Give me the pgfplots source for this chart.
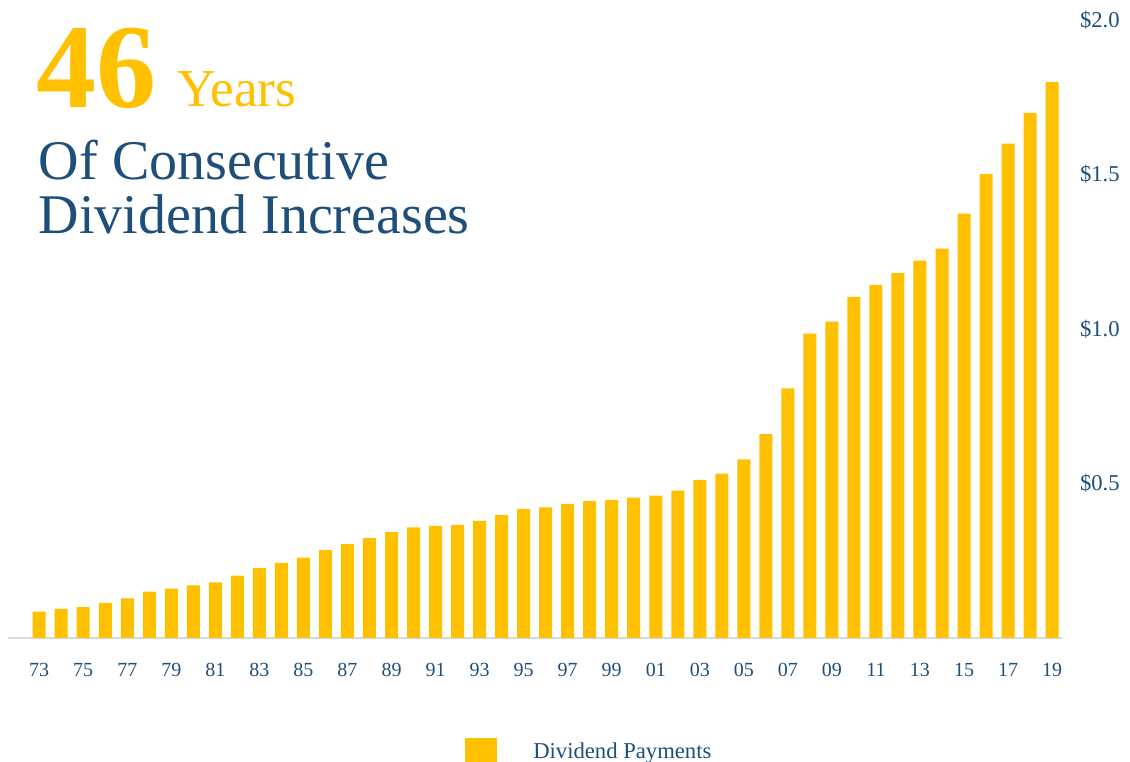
\documentclass[border=0pt]{standalone}
\usepackage{fontspec}
\setmainfont{Liberation Serif}
\usepackage{pgfplots}
\pgfplotsset{compat=1.18}
\definecolor{gold}{HTML}{FFC000}
\definecolor{navy}{HTML}{1F4E79}
\begin{document}
\begin{tikzpicture}
\useasboundingbox (0,0) rectangle (847.5pt,571.5pt);
\node[anchor=base west, inner sep=0pt, text=gold, font=\fontsize{90}{90}\selectfont\bfseries] at (27pt,491pt) {46};
\node[anchor=base west, inner sep=0pt, text=gold, font=\fontsize{40}{40}\selectfont] at (132.75pt,491.5pt) {Years};
\node[anchor=base west, inner sep=0pt, text=navy, font=\fontsize{42}{42}\selectfont] at (29pt,437pt) {Of Consecutive};
\node[anchor=base west, inner sep=0pt, text=navy, font=\fontsize{42}{42}\selectfont] at (29pt,396pt) {Dividend Increases};
\begin{axis}[
 at={(6pt,93pt)}, anchor=south west,
 scale only axis, width=790.5pt, height=463.5pt,
 xmin=-1.417, xmax=46.45, ymin=0, ymax=2,
 axis x line=bottom, axis y line=right,
 x axis line style={draw=black!15, line width=1pt, -},
 y axis line style={draw=none, -},
 major tick length=0pt,
 xtick={0,2,...,46},
 xticklabels={73,75,77,79,81,83,85,87,89,91,93,95,97,99,01,03,05,07,09,11,13,15,17,19},
 ytick={0.5,1,1.5,2},
 yticklabels={\$0.5,\$1.0,\$1.5,\$2.0},
 tick label style={text=navy},
 xticklabel style={font=\fontsize{15}{15}\selectfont, anchor=center, yshift=-24pt},
 yticklabel style={font=\fontsize{17}{17}\selectfont, anchor=west, xshift=10pt},
 ybar, bar width=9.75pt,
 legend style={draw=none, fill=none, inner sep=0pt, at={(axis description cs:0.4336,-0.1877)}, anchor=west,
   font=\fontsize{17}{17}\selectfont, text=navy,
   /tikz/every odd column/.append style={column sep=25pt}},
 legend image code/.code={\fill[gold] (0pt,-14pt) rectangle (24pt,10pt);},
]
\addplot[fill=gold, draw=none] table {
x y
0 0.085
1 0.094
2 0.100
3 0.114
4 0.128
5 0.150
6 0.160
7 0.170
8 0.180
9 0.202
10 0.226
11 0.243
12 0.260
13 0.284
14 0.304
15 0.323
16 0.343
17 0.358
18 0.363
19 0.366
20 0.379
21 0.398
22 0.417
23 0.423
24 0.434
25 0.443
26 0.447
27 0.454
28 0.461
29 0.477
30 0.512
31 0.532
32 0.578
33 0.660
34 0.808
35 0.985
36 1.024
37 1.104
38 1.142
39 1.181
40 1.221
41 1.260
42 1.373
43 1.501
44 1.600
45 1.699
46 1.799
};
\legend{Dividend Payments}
\end{axis}
\end{tikzpicture}
\end{document}
